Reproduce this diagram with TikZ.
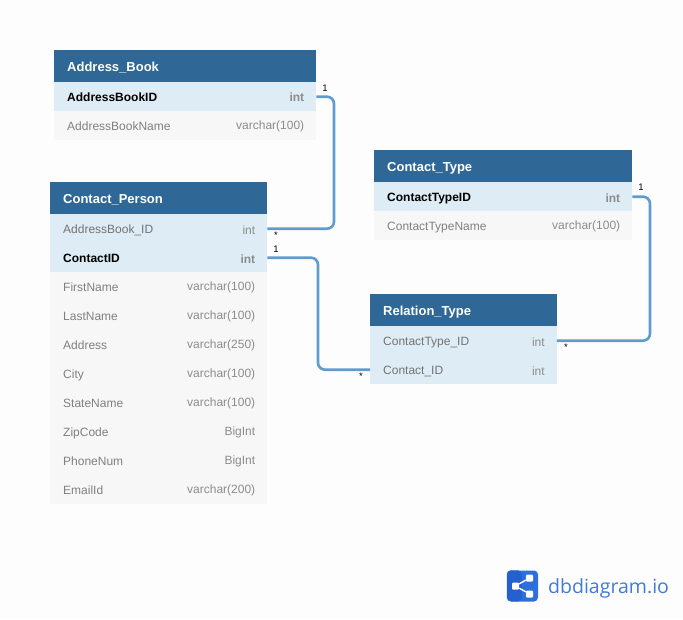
\documentclass[tikz,border=0pt]{standalone}
\usepackage{fontspec}
\setmainfont{Liberation Sans}
\newfontfamily\logofont{Open Sans}
\usetikzlibrary{arrows.meta,positioning}
\definecolor{headblue}{HTML}{2F6896}
\definecolor{keyrow}{HTML}{DEEDF5}
\definecolor{plainrow}{HTML}{F7F7F7}
\definecolor{linkblue}{HTML}{5F9BCF}
\definecolor{logoblue}{HTML}{2F6FDC}
\definecolor{logodark}{HTML}{2461CF}
\definecolor{logotext}{HTML}{3F7BD8}
\definecolor{paper}{HTML}{FDFDFD}

\begin{document}
\begin{tikzpicture}[
  x=1pt,
  y=-1pt,
  header/.style={
    fill=headblue,
    text=white,
    anchor=north west,
    align=left,
    inner sep=0pt,
    minimum height=32pt,
    text height=12.5pt,
    text depth=2pt,
    font=\fontsize{13}{15}\selectfont\bfseries
  },
  field/.style={
    anchor=north west,
    align=left,
    inner sep=0pt,
    minimum height=29pt,
    text height=11pt,
    text depth=2pt,
    font=\fontsize{12}{14}\selectfont
  },
  keyfield/.style={field, fill=keyrow, text=black!55},
  pkfield/.style={field, fill=keyrow, text=black, font=\fontsize{12}{14}\selectfont\bfseries},
  plainfield/.style={field, fill=plainrow, text=black!50},
  datatype/.style={anchor=east, inner sep=0pt, yshift=-1pt, text=black!45, font=\fontsize{12}{14}\selectfont},
  pktype/.style={datatype, font=\fontsize{12}{14}\selectfont\bfseries},
  link/.style={draw=linkblue, line width=2.6pt, rounded corners=7pt},
  card/.style={inner sep=0pt, font=\fontsize{9.5}{11}\selectfont}
]
\path[use as bounding box, fill=paper] (0,0) rectangle (683,619);

% Address_Book
\node[header, minimum width=262pt, text width=262pt] (ab) at (54,50) {\hspace*{13pt}Address\_Book};
\node[pkfield, minimum width=262pt, text width=262pt] (abid) at (54,82) {\hspace*{13pt}AddressBookID};
\node[plainfield, minimum width=262pt, text width=262pt] (abname) at (54,111) {\hspace*{13pt}AddressBookName};
\node[pktype] (abidt) at ([xshift=-12pt]abid.east) {int};
\node[datatype] (abnamet) at ([xshift=-12pt]abname.east) {varchar(100)};

% Contact_Person
\node[header, minimum width=217pt, text width=217pt] (cp) at (50,182) {\hspace*{13pt}Contact\_Person};
\node[keyfield, minimum width=217pt, text width=217pt] (cpbook) at (50,214) {\hspace*{13pt}AddressBook\_ID};
\node[pkfield, minimum width=217pt, text width=217pt] (cpid) at (50,243) {\hspace*{13pt}ContactID};
\node[plainfield, minimum width=217pt, text width=217pt] (cpfirst) at (50,272) {\hspace*{13pt}FirstName};
\node[plainfield, minimum width=217pt, text width=217pt] (cplast) at (50,301) {\hspace*{13pt}LastName};
\node[plainfield, minimum width=217pt, text width=217pt] (cpaddr) at (50,330) {\hspace*{13pt}Address};
\node[plainfield, minimum width=217pt, text width=217pt] (cpcity) at (50,359) {\hspace*{13pt}City};
\node[plainfield, minimum width=217pt, text width=217pt] (cpstate) at (50,388) {\hspace*{13pt}StateName};
\node[plainfield, minimum width=217pt, text width=217pt] (cpzip) at (50,417) {\hspace*{13pt}ZipCode};
\node[plainfield, minimum width=217pt, text width=217pt] (cpphone) at (50,446) {\hspace*{13pt}PhoneNum};
\node[plainfield, minimum width=217pt, text width=217pt] (cpmail) at (50,475) {\hspace*{13pt}EmailId};
\node[datatype] (cpbookt) at ([xshift=-12pt]cpbook.east) {int};
\node[pktype] (cpidt) at ([xshift=-12pt]cpid.east) {int};
\node[datatype] (cpfirstt) at ([xshift=-12pt]cpfirst.east) {varchar(100)};
\node[datatype] (cplastt) at ([xshift=-12pt]cplast.east) {varchar(100)};
\node[datatype] (cpaddrt) at ([xshift=-12pt]cpaddr.east) {varchar(250)};
\node[datatype] (cpcityt) at ([xshift=-12pt]cpcity.east) {varchar(100)};
\node[datatype] (cpstatet) at ([xshift=-12pt]cpstate.east) {varchar(100)};
\node[datatype] (cpzipt) at ([xshift=-12pt]cpzip.east) {BigInt};
\node[datatype] (cpphonet) at ([xshift=-12pt]cpphone.east) {BigInt};
\node[datatype] (cpmailt) at ([xshift=-12pt]cpmail.east) {varchar(200)};

% Contact_Type
\node[header, minimum width=258pt, text width=258pt] (ct) at (374,150) {\hspace*{13pt}Contact\_Type};
\node[pkfield, minimum width=258pt, text width=258pt] (ctid) at (374,182) {\hspace*{13pt}ContactTypeID};
\node[plainfield, minimum width=258pt, text width=258pt] (ctname) at (374,211) {\hspace*{13pt}ContactTypeName};
\node[pktype] (ctidt) at ([xshift=-12pt]ctid.east) {int};
\node[datatype] (ctnamet) at ([xshift=-12pt]ctname.east) {varchar(100)};

% Relation_Type
\node[header, minimum width=186.5pt, text width=186.5pt] (rt) at (370,294) {\hspace*{13pt}Relation\_Type};
\node[keyfield, minimum width=186.5pt, text width=186.5pt] (rttype) at (370,326) {\hspace*{13pt}ContactType\_ID};
\node[keyfield, minimum width=186.5pt, text width=186.5pt] (rtcontact) at (370,355) {\hspace*{13pt}Contact\_ID};
\node[datatype] (rttypet) at ([xshift=-12pt]rttype.east) {int};
\node[datatype] (rtcontactt) at ([xshift=-12pt]rtcontact.east) {int};

% connectors
\coordinate (bendbook) at (334,0);
\coordinate (bendcontact) at (318,0);
\coordinate (bendtype) at (650,0);
\draw[link] (abid.east) -| (bendbook |- cpbook.east) -- (cpbook.east);
\draw[link] (cpid.east) -| (bendcontact |- rtcontact.west) -- (rtcontact.west);
\draw[link] (ctid.east) -| (bendtype |- rttype.east) -- (rttype.east);

\node[card] (cardbook) at (325,88) {1};
\node[card] (cardperson) at (276,235) {*};
\node[card] (cardid) at (276,249) {1};
\node[card] (cardrel) at (361,376.5) {*};
\node[card] (cardct) at (641,187) {1};
\node[card] (cardrt) at (566,347.5) {*};

% logo
\node[fill=logoblue, rounded corners=4pt, minimum size=31pt, inner sep=0pt] (logo) at (522.5,586) {};
\fill[logodark, rounded corners=4pt] (logo.north west) -- ++(15,0) -- ++(0,31) -- ++(-15,0) -- cycle;
\node[fill=white, rounded corners=1pt, minimum size=7pt, inner sep=0pt] (sharel) at (515.5,586) {};
\node[fill=white, rounded corners=1pt, minimum size=7pt, inner sep=0pt] (shareu) at (529.5,578) {};
\node[fill=white, rounded corners=1pt, minimum size=7pt, inner sep=0pt] (shared) at (529.5,594) {};
\draw[white, line width=1.4pt] (shareu) -- (sharel) -- (shared);
\node[anchor=west, inner sep=0pt, text=logotext, font=\logofont\fontsize{19.5}{24}\selectfont] (logotitle) at (548,588) {dbdiagram.io};
\end{tikzpicture}
\end{document}
